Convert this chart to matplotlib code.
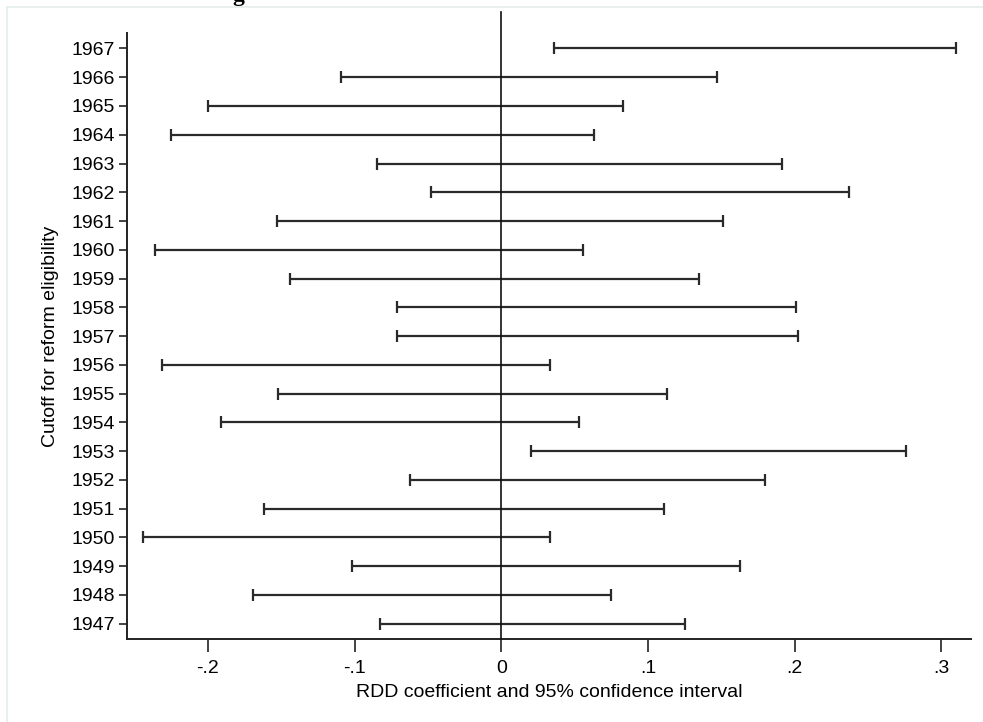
import numpy as np
import matplotlib.pyplot as plt
from matplotlib.lines import Line2D

# === DADOS ===
anos = [1967, 1966, 1965, 1964, 1963, 1962, 1961, 1960, 1959, 1958, 1957,
        1956, 1955, 1954, 1953, 1952, 1951, 1950, 1949, 1948, 1947]
ic_inf = [0.036, -0.109, -0.200, -0.225, -0.085, -0.048, -0.153, -0.236, -0.144, -0.071, -0.071,
          -0.231, -0.152, -0.191, 0.020, -0.062, -0.162, -0.244, -0.102, -0.169, -0.083]
ic_sup = [0.310, 0.147, 0.083, 0.063, 0.191, 0.237, 0.151, 0.056, 0.135, 0.201, 0.202,
          0.033, 0.113, 0.053, 0.276, 0.180, 0.111, 0.033, 0.163, 0.075, 0.125]
xticks = [-0.2, -0.1, 0, 0.1, 0.2, 0.3]
xtick_labels = ['-.2', '-.1', '0', '.1', '.2', '.3']

plt.rcParams['font.family'] = ['Liberation Sans', 'DejaVu Sans']

fig = plt.figure(figsize=(9.83, 7.22), dpi=100)
ax = fig.add_axes([0.1295, 0.115, 0.988 - 0.1295, 0.954 - 0.115])

lo = np.array(ic_inf)
hi = np.array(ic_sup)
centro = (lo + hi) / 2
meia = (hi - lo) / 2
ax.errorbar(centro, anos, xerr=meia, fmt='none', ecolor='#2a2a2a',
            elinewidth=1.6, capsize=4, capthick=1.6)

ax.axvline(0, ymin=0, ymax=1.035, color='#111111', lw=1.2, clip_on=False, zorder=3)

ax.set_xlim(-0.2549, 0.3203)
ax.set_ylim(1946.47, 1967.53)
ax.set_yticks(anos)
ax.set_yticklabels([str(a) for a in anos])
ax.set_xticks(xticks)
ax.set_xticklabels(xtick_labels)
ax.tick_params(axis='y', length=6, width=1.2, labelsize=14, pad=3, color='#222222')
ax.tick_params(axis='x', length=9, width=1.2, labelsize=14, pad=6, color='#222222')

for lado in ['top', 'right']:
    ax.spines[lado].set_visible(False)
for lado in ['left', 'bottom']:
    ax.spines[lado].set_linewidth(1.4)
    ax.spines[lado].set_color('#222222')

ax.set_xlabel('RDD coefficient and 95% confidence interval', fontsize=14, labelpad=5)
ax.set_ylabel('Cutoff for reform eligibility', fontsize=14, labelpad=9)

# moldura clara da imagem original
fig.add_artist(Line2D([7/983, 7/983], [0, 1 - 7/722], color='#e4eeee', lw=1.2))
fig.add_artist(Line2D([7/983, 1], [1 - 7/722, 1 - 7/722], color='#e4eeee', lw=1.2))

# resto do título cortado no topo
fig.text(238/983, 1 - 1/722, 'g', ha='center', va='baseline', fontsize=17,
         family='Liberation Serif', weight='bold')

fig.savefig('out.png', dpi=100)
